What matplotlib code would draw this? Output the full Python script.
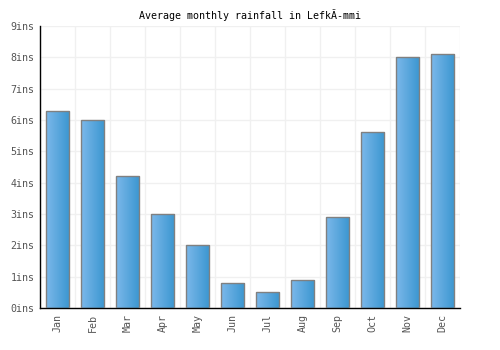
import matplotlib
matplotlib.use("Agg")
import matplotlib.pyplot as plt
import numpy as np
from matplotlib.colors import LinearSegmentedColormap

months = ["Jan", "Feb", "Mar", "Apr", "May", "Jun", "Jul", "Aug", "Sep", "Oct", "Nov", "Dec"]
rainfall = [6.3, 6.0, 4.2, 3.0, 2.0, 0.8, 0.5, 0.9, 2.9, 5.6, 8.0, 8.1]
yticks = [0, 1, 2, 3, 4, 5, 6, 7, 8, 9]
ytick_labels = [f"{v}ins" for v in yticks]
title = "Average monthly rainfall in LefkÃ-mmi"

plt.rcParams['font.family'] = ['DejaVu Sans Mono']

fig = plt.figure(figsize=(5, 3.5), dpi=100)
ax = fig.add_axes([0.08, 0.12, 0.84, 0.806])

x = np.arange(len(months))
bars = ax.bar(x, rainfall, width=0.66, color='none', edgecolor='#808080', linewidth=1.0, zorder=3)

cmap = LinearSegmentedColormap.from_list("g", ["#7cb8ea", "#3a96d0"])
grad = np.linspace(0, 1, 256).reshape(1, -1)
for b in bars:
    x0, y0 = b.get_x(), b.get_y()
    w, h = b.get_width(), b.get_height()
    im = ax.imshow(grad, cmap=cmap, aspect='auto', extent=[x0, x0 + w, y0, y0 + h], zorder=2)
    im.set_clip_path(b)

ax.set_xlim(-0.5, len(months) - 0.5)
ax.set_ylim(0, 9)
ax.set_yticks(yticks)
ax.set_yticklabels(ytick_labels)
ax.set_xticks(x)
ax.set_xticklabels(months, rotation=90)
ax.set_xticks(np.arange(-0.5, len(months), 1), minor=True)
ax.grid(True, which='minor', axis='x', color='#f0f0f0', linewidth=1, zorder=0)
ax.grid(True, which='major', axis='y', color='#f0f0f0', linewidth=1, zorder=0)
ax.set_axisbelow(True)
ax.tick_params(axis='both', which='both', length=0, labelsize=7.2, labelcolor='#555555', pad=4)
for s in ['top', 'right']:
    ax.spines[s].set_visible(False)
for s in ['left', 'bottom']:
    ax.spines[s].set_color('black')
    ax.spines[s].set_linewidth(1)
ax.set_title(title, fontsize=7.2, pad=5)

fig.savefig("out.png", dpi=100)
